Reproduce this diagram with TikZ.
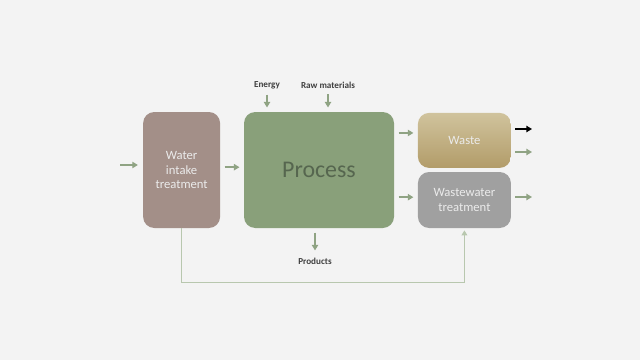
\documentclass[tikz,border=0pt]{standalone}
\usepackage{fontspec}
\setmainfont{Carlito}
\usetikzlibrary{arrows.meta}
\definecolor{bgcol}{HTML}{F3F3F3}
\definecolor{intakecol}{HTML}{A38F88}
\definecolor{proccol}{HTML}{89A07A}
\definecolor{wastetop}{HTML}{D0C39D}
\definecolor{wastebot}{HTML}{B29C69}
\definecolor{wwcol}{HTML}{A0A0A0}
\definecolor{flowcol}{HTML}{8FA383}
\definecolor{loopcol}{HTML}{B8C7AE}
\definecolor{proctext}{HTML}{56664F}
\definecolor{labtext}{HTML}{3F3F3F}
\begin{document}
\begin{tikzpicture}[
    unitbox/.style={rounded corners=8pt,inner sep=2pt,align=center,
      text=white!92!black,font=\fontsize{9}{10.5}\selectfont},
    flow/.style={draw=flowcol,line width=1.4pt,
      -{Triangle[length=4pt,width=4.5pt]}},
    tag/.style={font=\fontsize{6.5}{7}\selectfont\bfseries,text=labtext,inner sep=1pt}]
  \fill[bgcol] (0,0) rectangle (16,9);
  % units
  \node[unitbox,fill=intakecol,minimum width=1.925cm,minimum height=2.9cm]
    (intake) at (4.54,4.75) {Water\\intake\\treatment};
  \node[unitbox,fill=proccol,minimum width=3.75cm,minimum height=2.9cm,
    text=proctext,font=\fontsize{17}{18}\selectfont] (process) at (7.975,4.75) {Process};
  \node[unitbox,top color=wastetop,bottom color=wastebot,
    minimum width=2.325cm,minimum height=1.375cm] (waste) at (11.61,5.49) {Waste};
  \node[unitbox,fill=wwcol,minimum width=2.325cm,minimum height=1.4cm]
    (wwater) at (11.61,4.0) {Wastewater\\treatment};
  % labels
  \node[tag] (energy) at (6.675,6.875) {Energy};
  \node[tag] (raw) at (8.2,6.875) {Raw materials};
  \node[tag] (products) at (7.875,2.475) {Products};
  % free ends
  \coordinate (feed) at (3.0,4.875);
  \coordinate (solid) at (13.3,5.775);
  \coordinate (wout) at (13.3,5.2);
  \coordinate (wwout) at (13.3,4.075);
  % flows
  \draw[flow,shorten >=3.5pt] (feed) -- (feed -| intake.west);
  \draw[flow,shorten <=3pt,shorten >=3pt]
    ([yshift=2pt]intake.east) -- ([yshift=2pt]intake.east -| process.west);
  \draw[flow,shorten <=3pt,shorten >=3pt] (energy) -- (energy |- process.north);
  \draw[flow,shorten <=3pt,shorten >=3pt] (raw) -- (raw |- process.north);
  \draw[flow,shorten <=3pt,shorten >=4pt] (products |- process.south) -- (products);
  \draw[flow,shorten <=3pt,shorten >=3pt]
    ([yshift=5.3pt]waste.west -| process.east) -- ([yshift=5.3pt]waste.west);
  \draw[flow,shorten <=3pt,shorten >=3pt]
    ([yshift=2pt]wwater.west -| process.east) -- ([yshift=2pt]wwater.west);
  \draw[flow,draw=black,shorten <=3pt] (solid -| waste.east) -- (solid);
  \draw[flow,shorten <=3pt] (wout -| waste.east) -- (wout);
  \draw[flow,shorten <=3pt] (wwout -| wwater.east) -- (wwout);
  % recycle loop
  \draw[draw=loopcol,line width=1.1pt,-{Triangle[length=3.5pt,width=4pt]},shorten >=1.5pt]
    (intake.south) -- ++(0,-1.35) -| (wwater.south);
\end{tikzpicture}
\end{document}
